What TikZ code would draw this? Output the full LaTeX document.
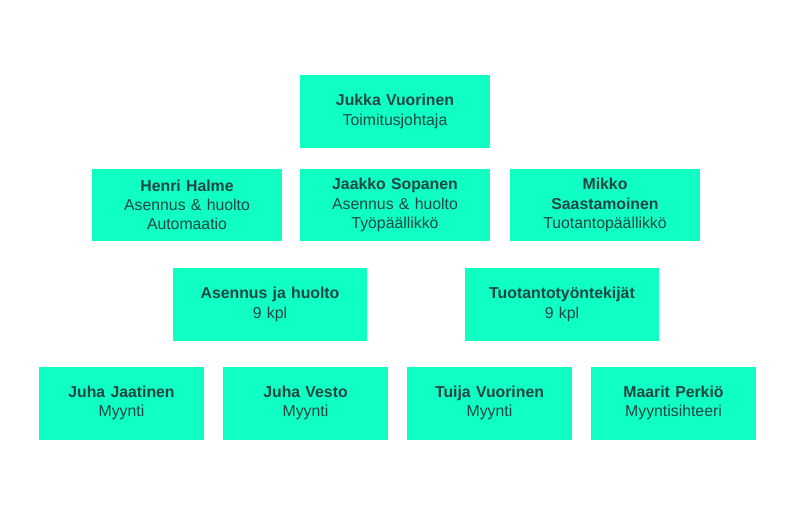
\documentclass[tikz,border=0pt]{standalone}
\usepackage{fontspec}
\setmainfont{Liberation Sans}
\definecolor{mint}{RGB}{16,255,194}
\definecolor{ink}{RGB}{30,70,70}
\tikzset{
  box/.style={fill=mint, text=ink, align=center, font=\fontsize{9}{11}\selectfont,
    minimum height=1.46cm, inner sep=1pt},
  wide/.style={box, minimum width=3.8cm, text width=3.7cm},
  mid/.style={box, minimum width=3.88cm, text width=3.7cm},
  narrow/.style={box, minimum width=3.3cm, text width=3.2cm}
}
\begin{document}
\begin{tikzpicture}[x=0.02cm,y=-0.02cm]
  \useasboundingbox (0,0) rectangle (800,531);
  % top
  \node[wide] (ceo) at (395,111.5) {\textbf{Jukka Vuorinen}\\Toimitusjohtaja};
  % managers
  \node[wide] (henri) at (187,205) {\textbf{Henri Halme}\\Asennus \& huolto\\Automaatio};
  \node[wide] (jaakko) at (395,205) {\textbf{Jaakko Sopanen}\\Asennus \& huolto\\Työpäällikkö};
  \node[wide] (mikko) at (605,205) {\textbf{Mikko}\\\textbf{Saastamoinen}\\Tuotantopäällikkö};
  % teams
  \node[mid] (asennus) at (270,304.5) {\textbf{Asennus ja huolto}\\9 kpl};
  \node[mid] (tuotanto) at (562,304.5) {\textbf{Tuotantotyöntekijät}\\9 kpl};
  % sales
  \node[narrow] (jaatinen) at (121.5,403) {\textbf{Juha Jaatinen}\\Myynti};
  \node[narrow] (vesto) at (305.5,403) {\textbf{Juha Vesto}\\Myynti};
  \node[narrow] (tuija) at (489.5,403) {\textbf{Tuija Vuorinen}\\Myynti};
  \node[narrow] (maarit) at (673.5,403) {\textbf{Maarit Perkiö}\\Myyntisihteeri};
\end{tikzpicture}
\end{document}
